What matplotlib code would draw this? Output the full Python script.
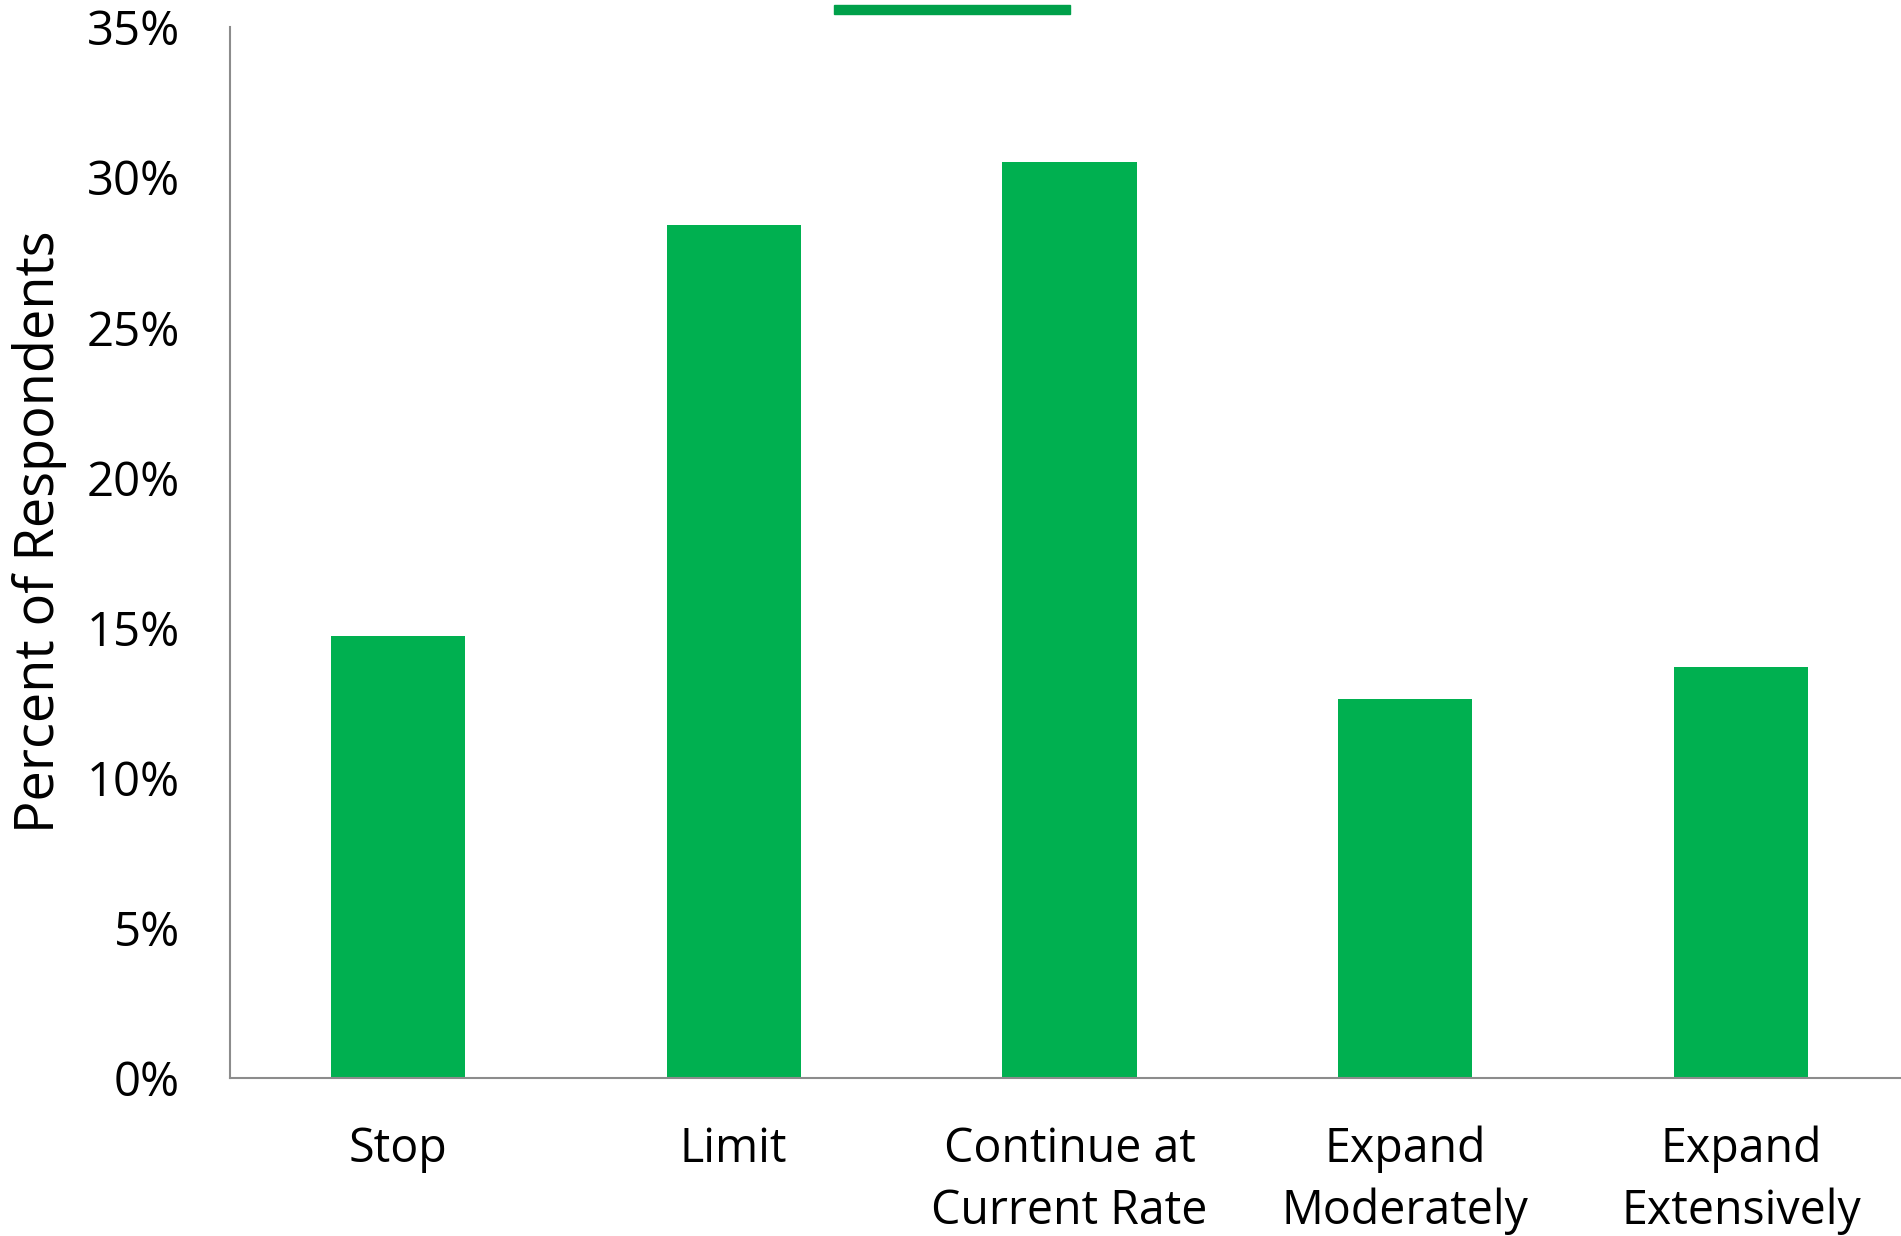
import matplotlib.pyplot as plt
from matplotlib.patches import Rectangle
from matplotlib.ticker import FuncFormatter

categories = ['Stop', 'Limit', 'Continue at\nCurrent Rate', 'Expand\nModerately', 'Expand\nExtensively']
percents = [14.73, 28.42, 30.51, 12.62, 13.69]

plt.rcParams['font.family'] = ['Open Sans', 'DejaVu Sans']

fig = plt.figure(figsize=(19.01, 12.36), dpi=100)
# axes placement in pixels: left 230, bottom 1078, top 27
ax = fig.add_axes([230 / 1901, (1236 - 1078) / 1236, (1909 - 230) / 1901, (1078 - 27) / 1236])

x = range(len(categories))
ax.bar(x, percents, width=0.4, color='#00b050')

ax.set_xlim(-0.5, 4.5)
ax.set_ylim(0, 35)
ax.set_yticks(range(0, 36, 5))
ax.yaxis.set_major_formatter(FuncFormatter(lambda v, p: f'{int(v)}%'))
ax.set_xticks(list(x))
ax.set_xticklabels(categories, fontsize=33.5, linespacing=1.4)
ax.tick_params(axis='y', length=0, pad=36, labelsize=34)
ax.tick_params(axis='x', length=0, pad=34)

ax.set_ylabel('Percent of Respondents', fontsize=39)
ax.yaxis.set_label_coords(-0.097, 0.52)

for side in ['top', 'right']:
    ax.spines[side].set_visible(False)
for side in ['left', 'bottom']:
    ax.spines[side].set_color('#8c8c8c')
    ax.spines[side].set_linewidth(1.5)

# leftover legend swatch at the top edge
fig.patches.append(Rectangle((834 / 1901, 1 - 14 / 1236), 236 / 1901, 9 / 1236,
                             transform=fig.transFigure, color='#00a04a'))

fig.savefig('out.png', dpi=100)
